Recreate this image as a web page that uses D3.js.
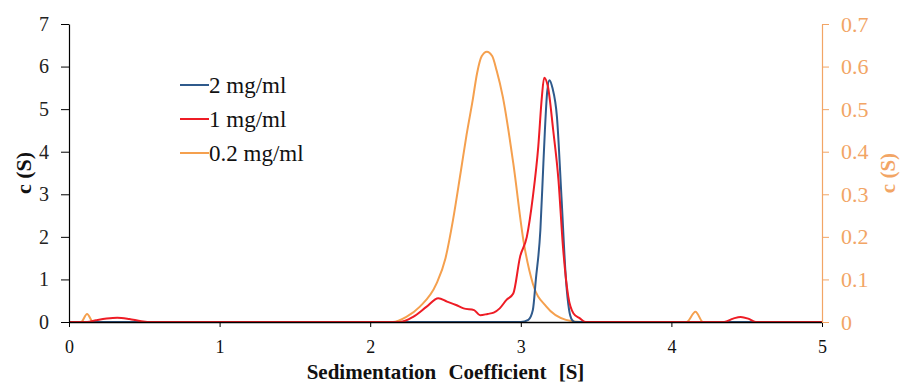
<!DOCTYPE html>
<html>
<head>
<meta charset="utf-8">
<script src="https://cdn.jsdelivr.net/npm/d3@7"></script>
<style>
  html, body { margin: 0; padding: 0; background: #fff; }
</style>
</head>
<body>
<div class="chart-container"></div>
<script>
// sedimentation coefficient (S) and c(S) values
const sRed = [0, 0.12, 0.18, 0.25, 0.32, 0.4, 0.48, 0.55, 2.2, 2.285, 2.375, 2.452, 2.51, 2.57, 2.62, 2.69, 2.73, 2.78, 2.82, 2.86, 2.905, 2.95, 2.995, 3.04, 3.08, 3.116, 3.14, 3.155, 3.18, 3.215, 3.25, 3.28, 3.315, 3.35, 3.39, 3.43, 4.35, 4.41, 4.46, 4.51, 4.56, 5];
const cRed = [0, 0, 0.04, 0.08, 0.1, 0.07, 0.02, 0, 0, 0.12, 0.36, 0.56, 0.48, 0.4, 0.32, 0.28, 0.16, 0.19, 0.22, 0.32, 0.52, 0.67, 1.53, 2.0, 2.94, 4.12, 5.29, 5.74, 5.53, 4.51, 3.34, 1.77, 0.6, 0.2, 0.09, 0, 0, 0.08, 0.12, 0.08, 0, 0];

const sBlue = [0, 3.0, 3.05, 3.08, 3.1, 3.13, 3.15, 3.16, 3.175, 3.19, 3.21, 3.24, 3.27, 3.3, 3.32, 3.34, 3.36, 5];
const cBlue = [0, 0, 0.05, 0.28, 1.0, 2.16, 3.73, 4.5, 5.4, 5.68, 5.5, 4.82, 2.94, 0.99, 0.3, 0.05, 0, 0];

// 0.2 mg/ml is plotted against the right axis
const sOrange = [0, 0.08, 0.12, 0.16, 2.15, 2.24, 2.33, 2.44, 2.5, 2.55, 2.6, 2.64, 2.68, 2.71, 2.74, 2.775, 2.81, 2.84, 2.88, 2.95, 3.02, 3.08, 3.17, 3.3, 3.4, 4.1, 4.16, 4.21, 5];
const cOrange = [0, 0, 0.019, 0, 0, 0.012, 0.036, 0.09, 0.15, 0.24, 0.35, 0.44, 0.52, 0.585, 0.624, 0.635, 0.625, 0.59, 0.53, 0.373, 0.186, 0.09, 0.036, 0.005, 0, 0, 0.024, 0, 0];

const xTicks = [0, 1, 2, 3, 4, 5];
const leftTicks = [0, 1, 2, 3, 4, 5, 6, 7];
const rightTicks = [0, 0.1, 0.2, 0.3, 0.4, 0.5, 0.6, 0.7];

const seriesNames = ["2 mg/ml", "1 mg/ml", "0.2 mg/ml"];
const seriesColors = ["#2f5a8c", "#ee1c25", "#f5a04e"];

const W = 902, H = 388;
const margin = {top: 24, right: 80, bottom: 66, left: 69};
const serif = "'Liberation Serif', 'Times New Roman', serif";

const svg = d3.select(".chart-container")
  .append("svg")
  .attr("width", W)
  .attr("height", H)
  .attr("font-family", serif);

const xScale = d3.scaleLinear().domain([0, 5]).range([margin.left, W - margin.right]);
const yLeft = d3.scaleLinear().domain([0, 7]).range([H - margin.bottom, margin.top]);
const yRight = d3.scaleLinear().domain([0, 0.7]).range([H - margin.bottom, margin.top]);

function zip(xs, ys) { return xs.map((x, i) => [x, ys[i]]); }

// curves
function drawLine(pts, yScale, color) {
  const line = d3.line()
    .x(d => xScale(d[0]))
    .y(d => yScale(d[1]))
    .curve(d3.curveMonotoneX);
  svg.append("path")
    .datum(pts)
    .attr("fill", "none")
    .attr("stroke", color)
    .attr("stroke-width", 2)
    .attr("stroke-linejoin", "round")
    .attr("d", line);
}

drawLine(zip(sOrange, cOrange), yRight, seriesColors[2]);
drawLine(zip(sBlue, cBlue), yLeft, seriesColors[0]);
drawLine(zip(sRed, cRed), yLeft, seriesColors[1]);

// axes
const xAxis = svg.append("g")
  .attr("transform", "translate(0," + (H - margin.bottom) + ")")
  .call(d3.axisBottom(xScale).tickValues(xTicks).tickFormat(d3.format("d")).tickSizeInner(5).tickSizeOuter(0).tickPadding(13));
xAxis.attr("font-family", serif);
xAxis.select(".domain").attr("stroke", "#000").attr("stroke-width", 1.5);
xAxis.selectAll("text").attr("font-size", 18).attr("fill", "#111");

const leftAxis = svg.append("g")
  .attr("transform", "translate(" + margin.left + ",0)")
  .call(d3.axisLeft(yLeft).tickValues(leftTicks).tickFormat(d3.format("d")).tickSizeInner(8).tickSizeOuter(0).tickPadding(12));
leftAxis.attr("font-family", serif);
leftAxis.select(".domain").attr("stroke", "#000").attr("stroke-width", 1.2);
leftAxis.selectAll("text").attr("font-size", 20).attr("fill", "#222");

const orangeAxis = "#f2a565";
const rightAxis = svg.append("g")
  .attr("transform", "translate(" + (W - margin.right) + ",0)")
  .call(d3.axisRight(yRight).tickValues(rightTicks).tickFormat(d => d === 0 ? "0" : d3.format(".1f")(d)).tickSizeInner(7).tickSizeOuter(0).tickPadding(12));
rightAxis.attr("font-family", serif);
rightAxis.select(".domain").attr("stroke", orangeAxis).attr("stroke-width", 1.2);
rightAxis.selectAll(".tick line").attr("stroke", orangeAxis);
rightAxis.selectAll("text").attr("font-size", 22).attr("fill", orangeAxis);

// axis titles
svg.append("text")
  .attr("x", (margin.left + W - margin.right) / 2)
  .attr("y", 379)
  .attr("text-anchor", "middle")
  .attr("font-weight", "bold")
  .attr("font-size", 21)
  .attr("word-spacing", 7)
  .attr("fill", "#111")
  .text("Sedimentation Coefficient [S]");

svg.append("text")
  .attr("transform", "translate(31," + (margin.top + (H - margin.top - margin.bottom) / 2) + ") rotate(-90)")
  .attr("text-anchor", "middle")
  .attr("font-weight", "bold")
  .attr("font-size", 22)
  .attr("fill", "#111")
  .text("c (S)");

svg.append("text")
  .attr("transform", "translate(895," + (margin.top + (H - margin.top - margin.bottom) / 2) + ") rotate(-90)")
  .attr("text-anchor", "middle")
  .attr("font-weight", "bold")
  .attr("font-size", 21)
  .attr("fill", orangeAxis)
  .text("c (S)");

// legend
const legend = svg.append("g").attr("transform", "translate(180,85)");
seriesNames.forEach((name, i) => {
  const row = legend.append("g").attr("transform", "translate(0," + (i * 34) + ")");
  row.append("line")
    .attr("x1", 0).attr("x2", 29)
    .attr("stroke", seriesColors[i])
    .attr("stroke-width", 2);
  row.append("text")
    .attr("x", 29)
    .attr("dy", "0.35em")
    .attr("font-size", 23)
    .attr("fill", "#111")
    .text(name);
});
</script>
</body>
</html>
